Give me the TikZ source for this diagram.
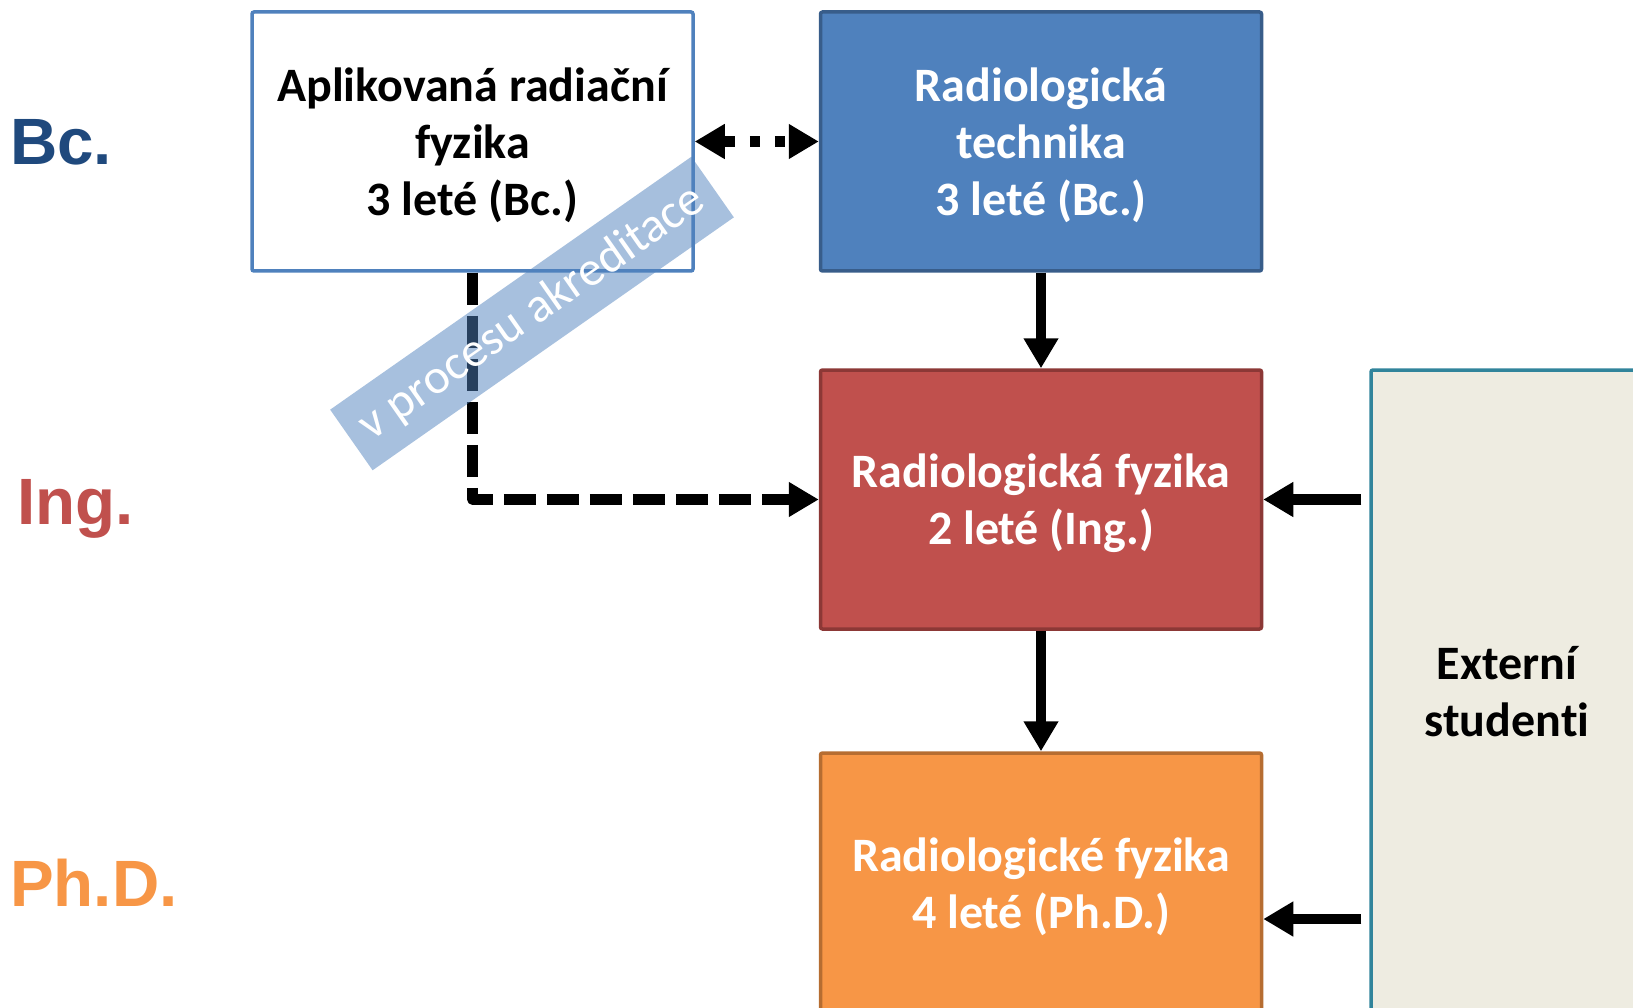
\documentclass[tikz,border=0pt]{standalone}
\usepackage{fontspec}
\setmainfont{Carlito}[Ligatures={NoCommon}]
\newfontfamily\arialf{Liberation Sans}
\usetikzlibrary{arrows.meta}
\definecolor{bluef}{HTML}{4F81BD}
\definecolor{blued}{HTML}{385D8A}
\definecolor{redf}{HTML}{C0504D}
\definecolor{redd}{HTML}{8C3836}
\definecolor{oraf}{HTML}{F79646}
\definecolor{orad}{HTML}{B66D31}
\definecolor{extf}{HTML}{EEECE1}
\definecolor{extd}{HTML}{31849B}
\definecolor{bclab}{HTML}{1F497D}
\begin{document}
\begin{tikzpicture}[x=1pt,y=-1pt,
  box/.style={draw, line width=3.5pt, minimum width=441pt, minimum height=259pt,
    inner sep=0pt, rounded corners=2pt},
  boxtxt/.style={inner sep=0pt, align=center,
    font=\fontsize{48}{57}\selectfont\bfseries},
  lvl/.style={anchor=base west, inner sep=0pt,
    font=\arialf\bfseries\fontsize{65.5}{72}\selectfont},
  tip/.style={Triangle[length=30pt,width=33pt]},
  arr/.style={line width=10.5pt, -{Triangle[length=30pt,width=33pt]}},
  band/.style={fill=bluef, fill opacity=0.5, text opacity=1, text=white,
    minimum width=441pt, minimum height=74pt, inner sep=0pt,
    font=\fontsize{49}{58}\selectfont}
]
\useasboundingbox (0,0) rectangle (1633,1008);
\clip (0,0) rectangle (1633,1008);

% level labels
\node[lvl, text=bclab] (lbc) at (10,164.5) {Bc.};
\node[lvl, text=redf] (ling) at (17,524) {Ing.};
\node[lvl, text=oraf] (lphd) at (10,906) {Ph.D.};

% boxes
\node[box, draw=bluef, fill=white] (A) at (472.5,141.5) {};
\node[box, draw=blued, fill=bluef] (B) at (1041,141.5) {};
\node[box, draw=redd, fill=redf] (C) at (1041,499.5) {};
\node[box, draw=orad, fill=oraf] (D) at (1041,882.5) {};
\node[box, draw=extd, fill=extf, minimum width=272pt,
  minimum height=644pt] (E) at (1507,692) {};

% box texts
\node[boxtxt, text=black] (At) at ([yshift=-4pt]A.center)
  {Aplikovaná radiační\\fyzika\\3 leté (Bc.)};
\node[boxtxt, text=white] (Bt) at ([yshift=-4pt]B.center)
  {Radiologická\\technika\\3 leté (Bc.)};
\node[boxtxt, text=white] (Ct) at ([yshift=-4pt]C.center)
  {Radiologická fyzika\\2 leté (Ing.)};
\node[boxtxt, text=white] (Dt) at ([yshift=-4pt]D.center)
  {Radiologické fyzika\\4 leté (Ph.D.)};
\node[boxtxt, text=black] (Et) at (E.center) {Externí\\studenti};

% connectors
\draw[arr, {Triangle[length=30pt,width=33pt]}-{Triangle[length=30pt,width=33pt]},
  dash pattern=on 10pt off 15pt, dash phase=-2pt] (A.east) -- (B.west);
\draw[arr] (B.south) -- (C.north);
\draw[arr] (C.south) -- (D.north);
\draw[arr, shorten <=8pt] (E.west |- C.east) -- (C.east);
\draw[arr, shorten <=8pt] (E.west |- 0,919) -- (D.east |- 0,919);
\draw[arr, line join=round, dash pattern=on 32pt off 11pt]
  (A.south) -- (A.south |- C.west) -- (C.west);

% accreditation band
\node[band, rotate=35] (band) at (532,313.5) {v procesu akreditace};
\end{tikzpicture}
\end{document}
